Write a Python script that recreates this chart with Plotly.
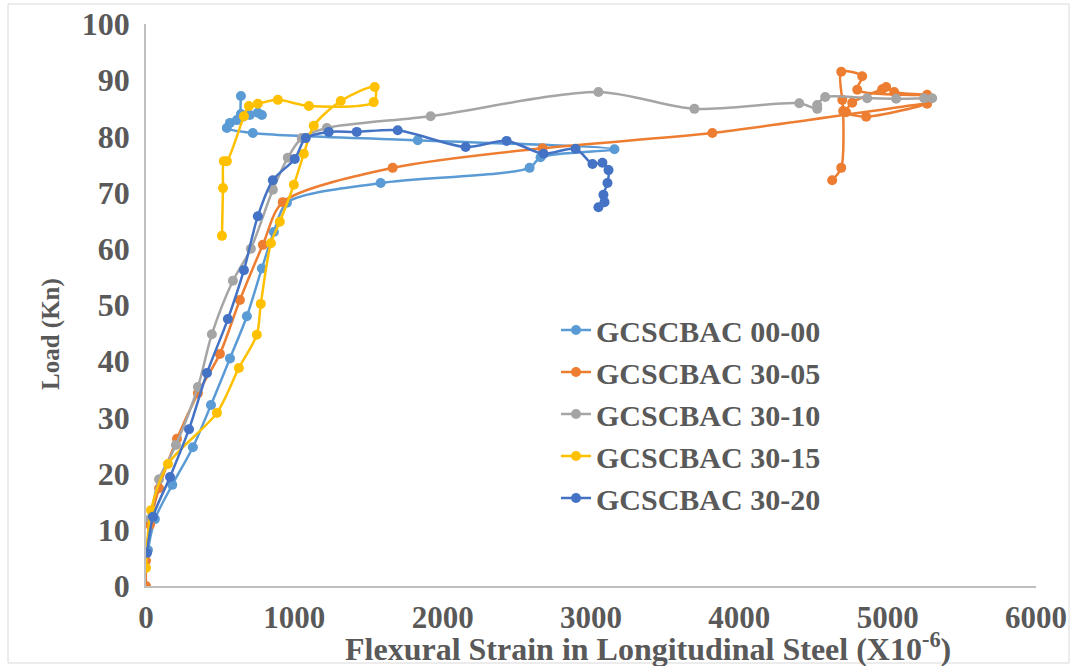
import plotly.graph_objects as go

# ---- data ----
names = ["GCSCBAC 00-00", "GCSCBAC 30-05", "GCSCBAC 30-10", "GCSCBAC 30-15", "GCSCBAC 30-20"]
colors = ["#5B9BD5", "#ED7D31", "#A5A5A5", "#FFC000", "#4472C4"]

strain_00_00 = [13, 60, 177, 316, 438, 566, 680, 781, 862, 950, 1582, 2586, 2660, 3158, 1832, 720,
                545, 566, 613, 754, 781, 700, 653, 640, 640]
load_00_00 = [6.4, 11.9, 18.0, 24.7, 32.2, 40.5, 48.0, 56.5, 63.0, 68.2, 71.7, 74.4, 76.3, 77.7, 79.3, 80.6,
              81.5, 82.4, 82.9, 84.2, 83.8, 83.8, 83.5, 84.0, 87.2]

strain_30_05 = [0, 0, 27, 88, 209, 350, 498, 633, 788, 922, 1663, 2673, 3818, 5266, 4855, 4720, 4761,
                4963, 4990, 5044, 5266, 4795, 4828, 4687, 4694, 4700, 4687, 4626]
load_30_05 = [0, 4.5, 10.9, 17.4, 26.2, 34.3, 41.3, 50.9, 60.7, 68.3, 74.4, 77.9, 80.6, 85.8, 83.5, 84.3, 86.0,
              88.4, 88.8, 87.9, 87.4, 88.3, 90.7, 91.5, 86.5, 84.5, 74.4, 72.2]

strain_30_10 = [5, 30, 88, 202, 350, 444, 586, 707, 855, 956, 1050, 1219, 1919, 3050, 3697, 4404, 4525,
                4525, 4579, 4862, 5057, 5246, 5300]
load_30_10 = [6.0, 12.0, 19.0, 25.1, 35.4, 44.8, 54.3, 60.0, 70.5, 76.2, 79.7, 81.5, 83.6, 87.9, 84.9, 85.9, 84.9,
              85.6, 87.0, 86.8, 86.7, 86.8, 86.8]

strain_30_15 = [0, 34, 148, 478, 626, 747, 774, 842, 902, 997, 1064, 1131, 1313, 1542, 1535, 1098, 889,
                754, 694, 660, 545, 525, 519, 512]
load_30_15 = [3.2, 13.5, 21.7, 30.8, 38.8, 44.7, 50.2, 61.0, 64.8, 71.4, 76.9, 81.9, 86.3, 88.8, 86.1, 85.4, 86.5,
              85.8, 85.4, 83.6, 75.6, 75.6, 70.8, 62.3]

strain_30_20 = [7, 47, 162, 290, 411, 552, 660, 754, 855, 1003, 1077, 1232, 1421, 1697, 2155, 2431, 2680,
                2896, 3010, 3077, 3118, 3111, 3084, 3091, 3050]
load_30_20 = [5.9, 12.3, 19.4, 27.9, 37.9, 47.5, 56.2, 65.8, 72.2, 76.0, 79.7, 80.8, 80.8, 81.1, 78.1, 79.2, 76.9,
              77.8, 75.1, 75.3, 74.0, 71.7, 69.6, 68.3, 67.4]

x_ticks = [0, 1000, 2000, 3000, 4000, 5000, 6000]
y_ticks = [0, 10, 20, 30, 40, 50, 60, 70, 80, 90, 100]

series = [(strain_00_00, load_00_00), (strain_30_05, load_30_05), (strain_30_10, load_30_10),
          (strain_30_15, load_30_15), (strain_30_20, load_30_20)]

FONT = "Liberation Serif"
TXT = "#595959"

fig = go.Figure()
for (xs, ys), nm, col in zip(series, names, colors):
    fig.add_trace(go.Scatter(
        x=xs, y=ys, name=nm, mode="lines+markers",
        line=dict(color=col, width=2.5, shape="spline", smoothing=0.8),
        marker=dict(color=col, size=10),
    ))

W, H = 1076, 666
L, R, T, B = 146, 40, 24, 80
pw, ph = W - L - R, H - T - B

def px_to_paper_x(px):
    return (px - L) / pw

def px_to_paper_y(py):
    return (H - B - py) / ph

fig.update_layout(
    width=W, height=H,
    margin=dict(l=L, r=R, t=T, b=B, autoexpand=False),
    paper_bgcolor="white", plot_bgcolor="white",
    font=dict(family=FONT, color=TXT),
    showlegend=True,
    legend=dict(
        x=px_to_paper_x(556), y=px_to_paper_y(304), xanchor="left", yanchor="top",
        font=dict(family=FONT, size=30, color=TXT, weight="bold"),
        bgcolor="rgba(0,0,0,0)", itemwidth=30, tracegroupgap=0,
    ),
    xaxis=dict(
        range=[0, 6000], tickvals=x_ticks, ticktext=[str(v) for v in x_ticks],
        showgrid=False, zeroline=False, showline=True, linecolor="#BFBFBF", linewidth=1.5,
        ticks="", ticklabelstandoff=3,
        tickfont=dict(family=FONT, size=31, color=TXT, weight="bold"),
    ),
    yaxis=dict(
        range=[0, 100], tickvals=y_ticks, ticktext=[str(v) for v in y_ticks],
        showgrid=False, zeroline=False, showline=True, linecolor="#BFBFBF", linewidth=1.5,
        ticks="", ticklabelstandoff=8,
        tickfont=dict(family=FONT, size=32, color=TXT, weight="bold"),
    ),
    annotations=[
        dict(text="Flexural Strain in Longitudinal Steel (X10<sup>-6</sup>)",
             xref="paper", yref="paper", x=px_to_paper_x(648), y=px_to_paper_y(647),
             xanchor="center", yanchor="middle", showarrow=False,
             font=dict(family=FONT, size=32, color=TXT, weight="bold")),
        dict(text="Load (Kn)", textangle=-90,
             xref="paper", yref="paper", x=px_to_paper_x(51), y=px_to_paper_y(334),
             xanchor="center", yanchor="middle", showarrow=False,
             font=dict(family=FONT, size=25, color=TXT, weight="bold")),
    ],
    shapes=[dict(type="rect", xref="paper", yref="paper",
                 x0=px_to_paper_x(8), x1=px_to_paper_x(1069),
                 y0=px_to_paper_y(663), y1=px_to_paper_y(4),
                 line=dict(color="#D9D9D9", width=1), layer="below")],
)

fig.write_html("out.html", config={"displayModeBar": False},
               post_script="document.body.style.margin='0';document.body.style.overflow='hidden';")
